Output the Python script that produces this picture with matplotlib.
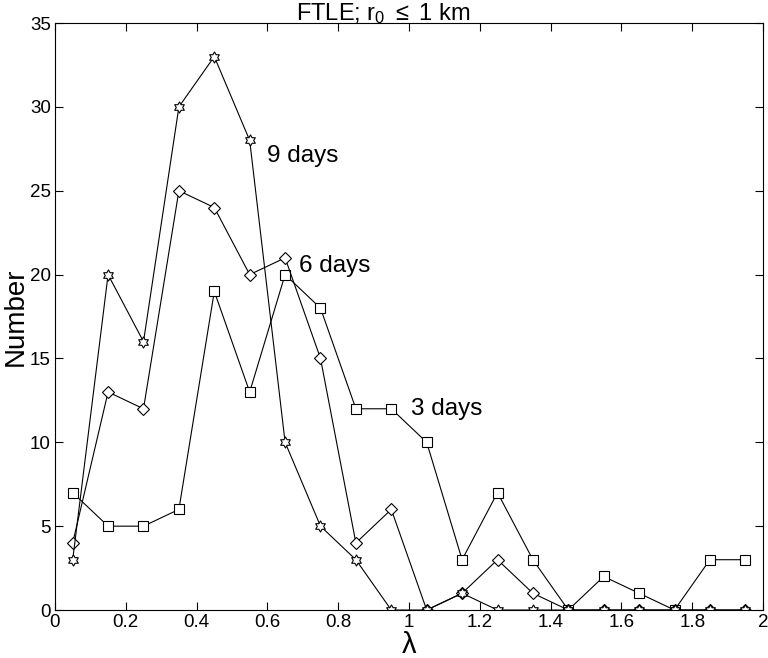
import numpy as np
import matplotlib
matplotlib.use("Agg")
import matplotlib.pyplot as plt
from matplotlib.path import Path

plt.rcParams["font.family"] = ["Liberation Sans", "DejaVu Sans"]
plt.rcParams["mathtext.fontset"] = "custom"
plt.rcParams["mathtext.rm"] = "Liberation Sans"
plt.rcParams["mathtext.it"] = "Liberation Sans"

# bin centres of the FTLE histogram
lam = [0.05, 0.15, 0.25, 0.35, 0.45, 0.55, 0.65, 0.75, 0.85, 0.95,
       1.05, 1.15, 1.25, 1.35, 1.45, 1.55, 1.65, 1.75, 1.85, 1.95]

days3 = [7, 5, 5, 6, 19, 13, 20, 18, 12, 12, 10, 3, 7, 3, 0, 2, 1, 0, 3, 3]
days6 = [4, 13, 12, 25, 24, 20, 21, 15, 4, 6, 0, 1, 3, 1, 0, 0, 0, 0, 0, 0]
days9 = [3, 20, 16, 30, 33, 28, 10, 5, 3, 0, 0, 1, 0, 0, 0, 0, 0, 0, 0, 0]

x_ticks = [0, 0.2, 0.4, 0.6, 0.8, 1, 1.2, 1.4, 1.6, 1.8, 2]
x_labels = ["0", "0.2", "0.4", "0.6", "0.8", "1", "1.2", "1.4", "1.6", "1.8", "2"]
y_ticks = [0, 5, 10, 15, 20, 25, 30, 35]


def hexagram():
    """Six-pointed star outline as a marker path."""
    verts = []
    for k in range(12):
        ang = np.pi / 2 + k * np.pi / 6
        r = 1.0 if k % 2 == 0 else 1.0 / np.sqrt(3)
        verts.append((r * np.cos(ang), r * np.sin(ang)))
    verts.append(verts[0])
    codes = [Path.MOVETO] + [Path.LINETO] * 11 + [Path.CLOSEPOLY]
    return Path(verts, codes)


fig = plt.figure(figsize=(7.68, 6.58), dpi=100)
ax = fig.add_axes([0.0716, 0.0729, 0.9219, 0.8921])

line_kw = dict(color="black", linewidth=0.8, markerfacecolor="white",
               markeredgecolor="black", markeredgewidth=0.8)
ax.plot(lam, days3, marker="s", markersize=6.5, **line_kw)
ax.plot(lam, days6, marker="D", markersize=6, **line_kw)
ax.plot(lam, days9, marker=hexagram(), markersize=8, **line_kw)

ax.text(0.60, 27.1, "9 days", fontsize=17.5, va="center", ha="left")
ax.text(0.69, 20.5, "6 days", fontsize=17.5, va="center", ha="left")
ax.text(1.007, 12.0, "3 days", fontsize=17.5, va="center", ha="left")

ax.set_xlim(0, 2)
ax.set_ylim(0, 35)
ax.set_xticks(x_ticks)
ax.set_xticklabels(x_labels)
ax.set_yticks(y_ticks)
ax.tick_params(direction="in", top=True, right=True, labelsize=13.5,
               length=6, width=0.8, pad=3)
for sp in ax.spines.values():
    sp.set_linewidth(0.8)

ax.set_xlabel(r"$\lambda$", fontsize=21, labelpad=0)
ax.set_ylabel("Number", fontsize=20, labelpad=1)
fig.text(383 / 768, 1 - 20 / 658, r"FTLE; r$_0$ $\leq$ 1 km", fontsize=17,
         ha="center", va="baseline")

fig.savefig("out.png", dpi=100)
